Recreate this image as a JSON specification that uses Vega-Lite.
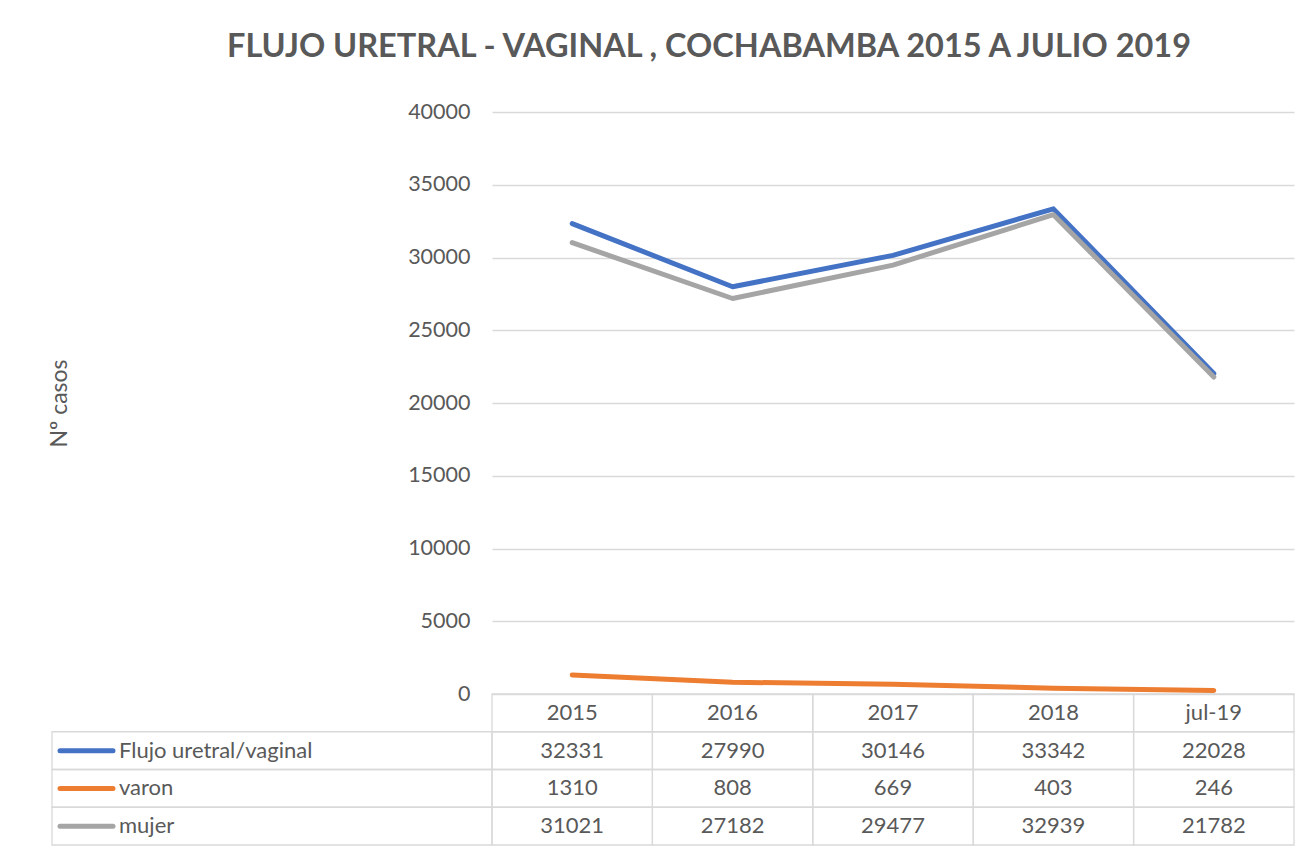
{
  "$schema": "https://vega.github.io/schema/vega-lite/v6.json",
  "autosize": "none",
  "width": 802,
  "height": 582,
  "padding": {"left": 492, "top": 112, "right": 11, "bottom": 160},
  "background": "white",
  "config": {
    "font": "Lato",
    "view": {"stroke": null},
    "title": {"font": "Lato", "fontSize": 32.5, "fontWeight": "bold", "color": "#595959", "anchor": "middle", "dx": -184, "offset": 38}
  },
  "title": "FLUJO URETRAL - VAGINAL , COCHABAMBA 2015 A JULIO 2019",
  "data": {
    "values": [
      {"year": "2015", "series": "Flujo uretral/vaginal", "value": 32331},
      {"year": "2016", "series": "Flujo uretral/vaginal", "value": 27990},
      {"year": "2017", "series": "Flujo uretral/vaginal", "value": 30146},
      {"year": "2018", "series": "Flujo uretral/vaginal", "value": 33342},
      {"year": "jul-19", "series": "Flujo uretral/vaginal", "value": 22028},
      {"year": "2015", "series": "varon", "value": 1310},
      {"year": "2016", "series": "varon", "value": 808},
      {"year": "2017", "series": "varon", "value": 669},
      {"year": "2018", "series": "varon", "value": 403},
      {"year": "jul-19", "series": "varon", "value": 246},
      {"year": "2015", "series": "mujer", "value": 31021},
      {"year": "2016", "series": "mujer", "value": 27182},
      {"year": "2017", "series": "mujer", "value": 29477},
      {"year": "2018", "series": "mujer", "value": 32939},
      {"year": "jul-19", "series": "mujer", "value": 21782}
    ]
  },
  "resolve": {"scale": {"x": "independent", "y": "independent"}},
  "layer": [
    {
      "mark": {"type": "line", "strokeWidth": 5, "strokeCap": "round", "strokeJoin": "round"},
      "encoding": {
        "x": {"field": "year", "type": "ordinal", "sort": null,
              "scale": {"type": "point", "domain": ["2015", "2016", "2017", "2018", "jul-19"], "padding": 0.5}, "axis": null},
        "y": {"field": "value", "type": "quantitative",
              "scale": {"domain": [0, 40000], "nice": false, "zero": true},
              "axis": {"values": [0, 5000, 10000, 15000, 20000, 25000, 30000, 35000, 40000], "format": "d",
                       "domain": false, "ticks": false, "grid": true, "gridColor": "#D9D9D9", "gridWidth": 1.3,
                       "labelFontSize": 21.5, "labelColor": "#595959", "labelPadding": 22, "labelFont": "Lato",
                       "title": "Nº casos", "titleFontSize": 23, "titleFontWeight": "normal", "titleColor": "#595959",
                       "titleFont": "Lato", "titlePadding": 336}},
        "color": {"field": "series", "type": "nominal",
                  "scale": {"domain": ["Flujo uretral/vaginal", "varon", "mujer"], "range": ["#4472C4", "#ED7D31", "#A5A5A5"]},
                  "legend": null}
      }
    },
    {
      "transform": [{"filter": "datum.series == 'mujer'"}],
      "mark": {"type": "rect", "fillOpacity": 0, "stroke": "#D9D9D9", "strokeWidth": 1.3},
      "encoding": {
        "x": {"field": "year", "type": "ordinal", "sort": null,
              "scale": {"type": "band", "domain": ["2015", "2016", "2017", "2018", "jul-19"], "paddingInner": 0, "paddingOuter": 0}, "axis": null},
        "y": {"datum": "hdr", "type": "nominal",
              "scale": {"type": "band", "domain": ["hdr", "Flujo uretral/vaginal", "varon", "mujer"], "range": [582, 733], "paddingInner": 0, "paddingOuter": 0}, "axis": null}
      }
    },
    {
      "mark": {"type": "rect", "fillOpacity": 0, "stroke": "#D9D9D9", "strokeWidth": 1.3},
      "encoding": {
        "x": {"field": "year", "type": "ordinal", "sort": null,
              "scale": {"type": "band", "domain": ["2015", "2016", "2017", "2018", "jul-19"], "paddingInner": 0, "paddingOuter": 0}, "axis": null},
        "y": {"field": "series", "type": "nominal",
              "scale": {"type": "band", "domain": ["hdr", "Flujo uretral/vaginal", "varon", "mujer"], "range": [582, 733], "paddingInner": 0, "paddingOuter": 0}, "axis": null}
      }
    },
    {
      "transform": [{"filter": "datum.year == '2015'"}],
      "mark": {"type": "rect", "fillOpacity": 0, "stroke": "#D9D9D9", "strokeWidth": 1.3},
      "encoding": {
        "x": {"datum": 0, "type": "quantitative", "scale": {"type": "linear", "domain": [0, 440], "range": [-440, 0], "zero": false, "nice": false}, "axis": null},
        "x2": {"datum": 440},
        "y": {"field": "series", "type": "nominal",
              "scale": {"type": "band", "domain": ["hdr", "Flujo uretral/vaginal", "varon", "mujer"], "range": [582, 733], "paddingInner": 0, "paddingOuter": 0}, "axis": null}
      }
    },
    {
      "transform": [{"filter": "datum.series == 'mujer'"}],
      "mark": {"type": "text", "fontSize": 22, "color": "#595959", "font": "Lato"},
      "encoding": {
        "x": {"field": "year", "type": "ordinal", "sort": null,
              "scale": {"type": "band", "domain": ["2015", "2016", "2017", "2018", "jul-19"], "paddingInner": 0, "paddingOuter": 0}, "axis": null},
        "y": {"datum": "hdr", "type": "nominal",
              "scale": {"type": "band", "domain": ["hdr", "Flujo uretral/vaginal", "varon", "mujer"], "range": [582, 733], "paddingInner": 0, "paddingOuter": 0}, "axis": null},
        "text": {"field": "year"}
      }
    },
    {
      "mark": {"type": "text", "fontSize": 22, "color": "#595959", "font": "Lato"},
      "encoding": {
        "x": {"field": "year", "type": "ordinal", "sort": null,
              "scale": {"type": "band", "domain": ["2015", "2016", "2017", "2018", "jul-19"], "paddingInner": 0, "paddingOuter": 0}, "axis": null},
        "y": {"field": "series", "type": "nominal",
              "scale": {"type": "band", "domain": ["hdr", "Flujo uretral/vaginal", "varon", "mujer"], "range": [582, 733], "paddingInner": 0, "paddingOuter": 0}, "axis": null},
        "text": {"field": "value", "type": "quantitative", "format": "d"}
      }
    },
    {
      "transform": [{"filter": "datum.year == '2015'"}],
      "mark": {"type": "rule", "strokeWidth": 5, "strokeCap": "round"},
      "encoding": {
        "x": {"datum": 8, "type": "quantitative", "scale": {"type": "linear", "domain": [0, 440], "range": [-440, 0], "zero": false, "nice": false}, "axis": null},
        "x2": {"datum": 61},
        "y": {"field": "series", "type": "nominal",
              "scale": {"type": "band", "domain": ["hdr", "Flujo uretral/vaginal", "varon", "mujer"], "range": [582, 733], "paddingInner": 0, "paddingOuter": 0}, "axis": null},
        "color": {"field": "series", "type": "nominal", "legend": null}
      }
    },
    {
      "transform": [{"filter": "datum.year == '2015'"}],
      "mark": {"type": "text", "fontSize": 22, "color": "#595959", "font": "Lato", "align": "left"},
      "encoding": {
        "x": {"datum": 67, "type": "quantitative", "scale": {"type": "linear", "domain": [0, 440], "range": [-440, 0], "zero": false, "nice": false}, "axis": null},
        "y": {"field": "series", "type": "nominal",
              "scale": {"type": "band", "domain": ["hdr", "Flujo uretral/vaginal", "varon", "mujer"], "range": [582, 733], "paddingInner": 0, "paddingOuter": 0}, "axis": null},
        "text": {"field": "series"}
      }
    }
  ]
}
